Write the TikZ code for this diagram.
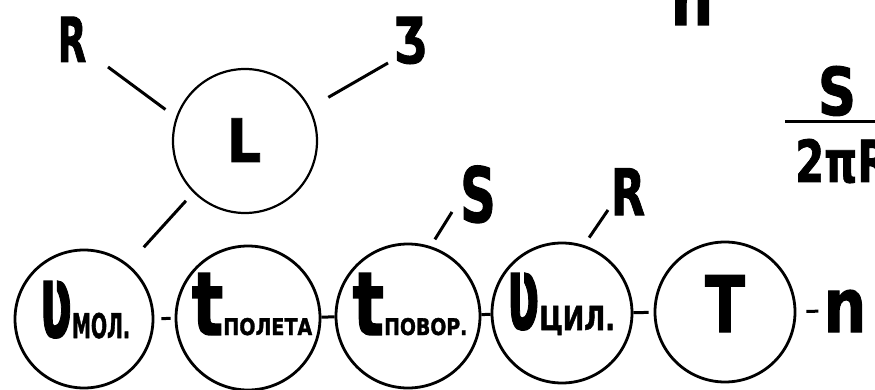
\documentclass[tikz,border=0pt]{standalone}
\usepackage{fontspec}
\usepackage{graphicx}
\newfontfamily\hand{DejaVu Sans}[BoldFeatures={FakeBold=1.6}]
% hand-lettered glyphs: horizontal scale, size, text
\newcommand\hw[3]{\scalebox{#1}[1]{\hand\bfseries\fontsize{#2}{#2}\selectfont #3}}
% same, with a vertical scale as well
\newcommand\hwv[4]{\scalebox{#1}[#2]{\hand\bfseries\fontsize{#3}{#3}\selectfont #4}}
\tikzset{
  ring/.style={circle, draw, line width=2.8pt, inner sep=0pt},
  link/.style={line width=3pt},
  txt/.style={inner sep=0pt, anchor=base},
}
\begin{document}
\begin{tikzpicture}[x=1pt,y=-1pt]
\useasboundingbox (0,0) rectangle (875,390);

% upper circle
\node[ring, line width=2.2pt, minimum size=144pt] (L) at (245,141) {};
\node[txt] (Lt) at (244,162) {\hw{0.9}{60pt}{L}};

% chain of circles
\node[ring, minimum size=138pt] (c1) at (84,319) {};
\node[ring, minimum size=144pt] (c2) at (248,318) {};
\node[ring, minimum size=144pt] (c3) at (408,316) {};
\node[ring, minimum size=140pt] (c4) at (562,313) {};
\node[ring, minimum size=140pt] (c5) at (725,312) {};

\node[txt] (c1t) at (85,338) {\hwv{0.6}{1.3}{80pt}{ʋ}\hw{0.56}{34pt}{МОЛ.}};
\node[txt] (c2t) at (252,335) {\hw{0.75}{88pt}{t}\hw{0.83}{23pt}{ПОЛЕТА}};
\node[txt] (c3t) at (410,335) {\hw{0.75}{88pt}{t}\hw{0.82}{23pt}{ПОВОР.}};
\node[txt] (c4t) at (561,330) {\hwv{0.6}{1.3}{80pt}{ʋ}\hw{0.77}{33pt}{ЦИЛ.}};
\node[txt] (c5t) at (725,332) {\hw{0.75}{78pt}{T}};
\node[txt] (n) at (845,332) {\hw{0.8}{75pt}{n}};

% free labels
\node[txt] (R1) at (72,62) {\hw{0.6}{62pt}{R}};
\node[txt] (Z) at (410,62) {\hw{0.68}{62pt}{Ʒ}};
\node[txt] (S) at (478,222) {\hw{0.65}{76pt}{S}};
\node[txt] (R2) at (628,215) {\hw{0.69}{64pt}{R}};
\node[txt] (ntop) at (692,25) {\hw{0.8}{75pt}{n}};

% fraction at the right edge
\node[txt] (fn) at (837,115) {\hw{0.8}{66pt}{S}};
\node[txt, anchor=base west] (fd) at (795,182) {\hw{0.72}{58pt}{2πR}};
\draw[line width=3pt] (785,122) -- (885,122);

% links between circles
\draw[link, shorten <=7pt, shorten >=4pt] (c1) -- (c2);
\draw[link] (c2) -- (c3);
\draw[link] (c3) -- (c4);
\draw[link, shorten >=5pt] (c4) -- (c5);
\draw[link, shorten <=10pt, shorten >=5pt] (c5) -- (n);

% strokes towards the labels
\coordinate (eR1) at (108,67);
\coordinate (eZ) at (388,63);
\coordinate (eS) at (452,212);
\coordinate (eR2) at (608,210);
\draw[link, shorten <=13pt] (L.161) -- (eR1);
\draw[link, shorten <=21pt] (L.27) -- (eZ);
\draw[link, shorten <=11pt, shorten >=23pt] (L.225) -- (c1.51);
\draw[link, shorten <=8pt] (c3.72) -- (eS);
\draw[link, shorten <=9pt] (c4.72) -- (eR2);
\end{tikzpicture}
\end{document}
